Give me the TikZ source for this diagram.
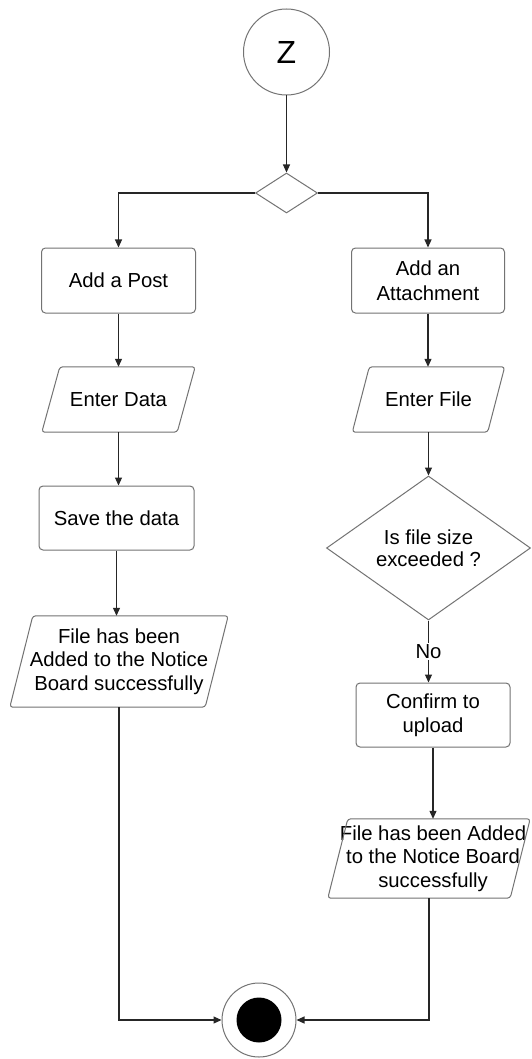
\documentclass[tikz,border=0pt]{standalone}
\usepackage{fontspec}
\setmainfont{Liberation Sans}
\usetikzlibrary{arrows.meta,shapes.geometric}
\begin{document}
\begin{tikzpicture}[x=1pt,y=-1pt,
  font=\fontsize{20.3}{23.5}\selectfont,
  shapeline/.style={draw=black!55, line width=1pt},
  proc/.style={shapeline, rectangle, rounded corners=4pt, align=center, inner sep=0pt},
  io/.style={rectangle, align=center, inner sep=0pt},
  conn/.style={draw=black!85, line width=1.1pt},
  arr/.style={conn, -{Triangle[length=8pt,width=7pt]}},
]
\fill[white] (0,0) rectangle (531,1059);
\useasboundingbox (0,0) rectangle (531,1059);

\node[shapeline, circle, minimum size=86pt, inner sep=0pt, font=\fontsize{32}{32}\selectfont] (z) at (286.5,52) {Z};
\node[shapeline, diamond, minimum width=62pt, minimum height=40pt, inner sep=0pt] (d1) at (286.5,193) {};
\node[proc, minimum width=154pt, minimum height=65pt] (post) at (118.5,280.5) {Add a Post};
\node[proc, minimum width=153pt, minimum height=65pt, font=\fontsize{20.3}{24.5}\selectfont] (att) at (428,280.5) {Add an\\Attachment};
\node[io, minimum width=153pt, minimum height=65pt] (data) at (118.5,399.5) {Enter Data};
\node[io, minimum width=152pt, minimum height=65pt] (file) at (428.5,399.5) {Enter File};
\node[proc, minimum width=155pt, minimum height=64pt] (save) at (116.5,518) {Save the data};
\node[io, minimum width=218pt, minimum height=91pt] (add1) at (119,661.5) {File has been\\Added to the Notice\\Board successfully};
\node[shapeline, diamond, minimum width=204pt, minimum height=144pt, shape aspect=1.4, inner sep=0pt, align=center, font=\fontsize{20.3}{22}\selectfont] (size) at (428.5,548) {Is file size\\exceeded ?};
\node[proc, minimum width=154pt, minimum height=64pt] (conf) at (433,715) {Confirm to\\upload};
\node[io, minimum width=202pt, minimum height=79pt] (add2) at (429,858.5) {\hspace*{8pt}File has been Added\\\hspace*{8pt}to the Notice Board\\\hspace*{8pt}successfully};
\node[shapeline, circle, minimum size=74pt, inner sep=0pt] (end) at (259,1020) {};
\fill (end.center) circle (22.5pt);

\foreach \n/\s in {data/18, file/17, add1/23, add2/20}
  \draw[shapeline, rounded corners=3pt] ([xshift=\s pt]\n.north west) -- (\n.north east) -- ([xshift=-\s pt]\n.south east) -- (\n.south west) -- cycle;

\draw[arr] (z) -- (d1);
\draw[arr] (d1.west) -| (post.north);
\draw[arr] (d1.east) -| (att.north);
\draw[arr] (post.south) -- (post.south |- data.north);
\draw[arr] (att.south) -- (att.south |- file.north);
\draw[arr] (data.south) -- (data.south |- save.north);
\draw[arr] (save.south) -- (save.south |- add1.north);
\draw[arr] (file.south) -- (size.north);
\draw[arr] (size.south) -- node[fill=white, inner sep=1pt]{No} (size.south |- conf.north);
\draw[arr] (conf.south) -- (conf.south |- add2.north);
\draw[arr] (add1.south) |- (end.west);
\draw[arr] (add2.south) |- (end.east);
\end{tikzpicture}
\end{document}
